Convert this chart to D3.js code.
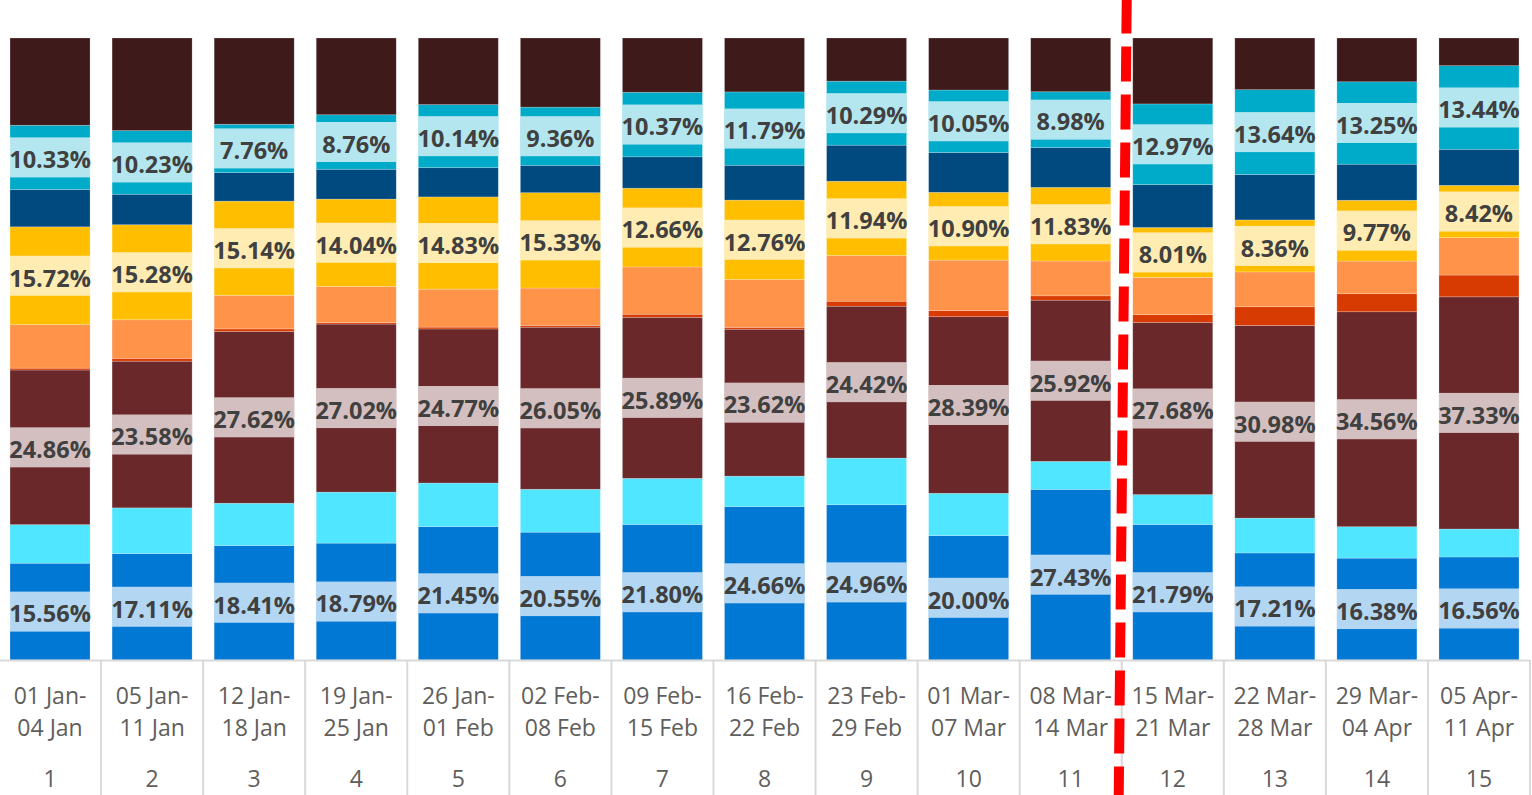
<!DOCTYPE html>
<html>
<head>
<meta charset="utf-8">
<script src="https://cdn.jsdelivr.net/npm/d3@7"></script>
<style>
  body { margin: 0; background: #fff; overflow: hidden; }
  svg { display: block; }
</style>
</head>
<body>
<div id="chart"></div>
<script>
// ! Data (percent share of each week, bottom segment first)
var weeks = [1, 2, 3, 4, 5, 6, 7, 8, 9, 10, 11, 12, 13, 14, 15];
var week_start = ["01 Jan-", "05 Jan-", "12 Jan-", "19 Jan-", "26 Jan-", "02 Feb-", "09 Feb-", "16 Feb-", "23 Feb-", "01 Mar-", "08 Mar-", "15 Mar-", "22 Mar-", "29 Mar-", "05 Apr-"];
var week_end = ["04 Jan", "11 Jan", "18 Jan", "25 Jan", "01 Feb", "08 Feb", "15 Feb", "22 Feb", "29 Feb", "07 Mar", "14 Mar", "21 Mar", "28 Mar", "04 Apr", "11 Apr"];

var s_blue = [15.56, 17.11, 18.41, 18.79, 21.45, 20.55, 21.80, 24.66, 24.96, 20.00, 27.43, 21.79, 17.21, 16.38, 16.56];
var s_cyan = [6.2, 7.35, 6.8, 8.2, 7.0, 6.9, 7.4, 4.9, 7.5, 6.8, 4.5, 4.8, 5.6, 5.05, 4.5];
var s_maroon = [24.86, 23.58, 27.62, 27.02, 24.77, 26.05, 25.89, 23.62, 24.42, 28.39, 25.92, 27.68, 30.98, 34.56, 37.33];
var s_red = [0.3, 0.46, 0.4, 0.25, 0.3, 0.3, 0.5, 0.3, 0.8, 1.0, 0.7, 1.25, 3.0, 2.9, 3.5];
var s_orange = [7.0, 6.2, 5.4, 5.8, 6.1, 6.0, 7.6, 7.7, 7.35, 8.1, 5.6, 6.0, 5.6, 5.25, 6.0];
var s_yellow = [15.72, 15.28, 15.14, 14.04, 14.83, 15.33, 12.66, 12.76, 11.94, 10.90, 11.83, 8.01, 8.36, 9.77, 8.42];
var s_navy = [6.0, 4.9, 4.6, 4.8, 4.7, 4.4, 5.05, 5.6, 5.8, 6.4, 6.4, 6.9, 7.3, 5.8, 5.8];
var s_teal = [10.33, 10.23, 7.76, 8.76, 10.14, 9.36, 10.37, 11.79, 10.29, 10.05, 8.98, 12.97, 13.64, 13.25, 13.44];
var s_brown = [14.03, 14.89, 13.87, 12.34, 10.71, 11.11, 8.73, 8.67, 6.94, 8.36, 8.64, 10.6, 8.31, 7.04, 4.45];

var series_keys = ["blue", "cyan", "maroon", "red", "orange", "yellow", "navy", "teal", "brown"];
var series_values = [s_blue, s_cyan, s_maroon, s_red, s_orange, s_yellow, s_navy, s_teal, s_brown];
var series_colours = ["#0078D4", "#50E6FF", "#6B282B", "#D83B01", "#FF934A", "#FFBF00", "#004A80", "#00ABC9", "#3F1A1B"];
var labelled_keys = ["blue", "maroon", "yellow", "teal"];

// ! Parameters
var width = 1532, height = 795;
var plot_top = 38, plot_bottom = 660;

// build rows for d3.stack
var table_rows = weeks.map(function (w, i) {
  var row = { week: w };
  series_keys.forEach(function (k, j) { row[k] = series_values[j][i]; });
  return row;
});

var stacked = d3.stack()
  .keys(series_keys)
  .offset(d3.stackOffsetExpand)(table_rows);

var svg = d3.select("#chart")
  .append("svg")
  .attr("width", width)
  .attr("height", height);

var x_scale = d3.scaleBand()
  .domain(weeks)
  .range([-1, 1530])
  .paddingInner(0.216)
  .paddingOuter(0.108);

var y_scale = d3.scaleLinear()
  .domain([0, 1])
  .range([plot_bottom, plot_top]);

var colour_scale = d3.scaleOrdinal()
  .domain(series_keys)
  .range(series_colours);

var half_gap = x_scale.step() * x_scale.paddingInner() / 2;

// ! Stacked bars
svg.append("g")
  .selectAll("g")
  .data(stacked)
  .enter()
  .append("g")
  .attr("fill", function (d) { return colour_scale(d.key); })
  .selectAll("rect")
  .data(function (d) { return d; })
  .enter()
  .append("rect")
  .attr("x", function (d) { return x_scale(d.data.week); })
  .attr("y", function (d) { return y_scale(d[1]); })
  .attr("width", x_scale.bandwidth())
  .attr("height", function (d) { return y_scale(d[0]) - y_scale(d[1]); })
  .attr("stroke", "rgba(255,255,255,0.3)")
  .attr("stroke-width", 0.7);

// ! Data labels with light backing band
var labelled = stacked.filter(function (s) { return labelled_keys.indexOf(s.key) > -1; });
var label_groups = svg.append("g")
  .selectAll("g")
  .data(labelled)
  .enter()
  .append("g");

label_groups.selectAll("rect")
  .data(function (d) { return d; })
  .enter()
  .append("rect")
  .attr("x", function (d) { return x_scale(d.data.week); })
  .attr("y", function (d) { return (y_scale(d[0]) + y_scale(d[1])) / 2 - 20; })
  .attr("width", x_scale.bandwidth())
  .attr("height", 40)
  .attr("fill", "#fff")
  .attr("fill-opacity", 0.7);

label_groups.selectAll("text")
  .data(function (d) { return d.map(function (p) { p.key = d.key; return p; }); })
  .enter()
  .append("text")
  .attr("x", function (d) { return x_scale(d.data.week) + x_scale.bandwidth() / 2; })
  .attr("y", function (d) { return (y_scale(d[0]) + y_scale(d[1])) / 2; })
  .attr("dy", "0.46em")
  .attr("text-anchor", "middle")
  .style("font-family", "'Open Sans', sans-serif")
  .style("font-weight", "bold")
  .style("font-size", "23.5px")
  .style("fill", "#404040")
  .text(function (d) { return d3.format(".2f")(d.data[d.key]) + "%"; });

// ! Category axis laid out as a table
var axis_g = svg.append("g")
  .attr("transform", "translate(0," + plot_bottom + ")")
  .call(d3.axisBottom(x_scale).tickSize(0).tickPadding(111));

axis_g.select(".domain").remove();
axis_g.selectAll(".tick text")
  .style("font-family", "'Open Sans', sans-serif")
  .style("font-size", "23px")
  .style("fill", "#605E5C");

axis_g.append("line")
  .attr("x1", 0).attr("x2", 1530)
  .attr("y1", 0.5).attr("y2", 0.5)
  .attr("stroke", "#D9D9D9")
  .attr("stroke-width", 2);

axis_g.selectAll(".divider")
  .data(weeks.slice(1).concat(["end"]))
  .enter()
  .append("line")
  .attr("class", "divider")
  .attr("x1", function (d) { return d === "end" ? x_scale(15) + x_scale.bandwidth() + half_gap : x_scale(d) - half_gap; })
  .attr("x2", function (d) { return d === "end" ? x_scale(15) + x_scale.bandwidth() + half_gap : x_scale(d) - half_gap; })
  .attr("y1", 0)
  .attr("y2", height - plot_bottom)
  .attr("stroke", "#D9D9D9")
  .attr("stroke-width", 2);

axis_g.selectAll(".period")
  .data(weeks)
  .enter()
  .append("text")
  .attr("class", "period")
  .attr("x", function (d) { return x_scale(d) + x_scale.bandwidth() / 2; })
  .attr("y", 44)
  .attr("text-anchor", "middle")
  .style("font-family", "'Open Sans', sans-serif")
  .style("font-size", "23px")
  .style("fill", "#605E5C")
  .each(function (d, i) {
    var t = d3.select(this);
    t.append("tspan").attr("x", t.attr("x")).text(week_start[i]);
    t.append("tspan").attr("x", t.attr("x")).attr("dy", 32).text(week_end[i]);
  });

// ! Red dashed marker between week 11 and week 12
var marker_x = x_scale(12) - half_gap;
svg.append("line")
  .attr("x1", marker_x + 5)
  .attr("y1", 0)
  .attr("x2", marker_x - 3)
  .attr("y2", height)
  .attr("stroke", "#FF0000")
  .attr("stroke-width", 10)
  .attr("stroke-dasharray", "35 13")
  .attr("stroke-dashoffset", 1.5);
</script>
</body>
</html>
